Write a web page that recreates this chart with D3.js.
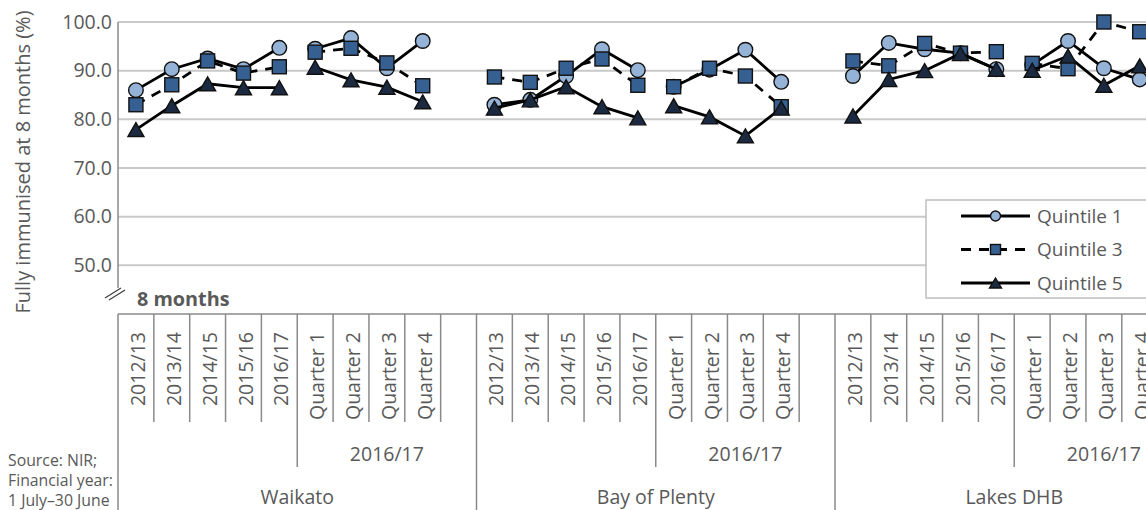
<!DOCTYPE html>
<html>
<head>
<meta charset="utf-8">
<script src="https://cdn.jsdelivr.net/npm/d3@7"></script>
<style>
  html, body { margin: 0; padding: 0; background: #fff; overflow: hidden; }
  svg { display: block; font-family: "Open Sans", "Noto Sans", sans-serif; }
</style>
</head>
<body>
<svg id="chart" width="1146" height="510"></svg>
<script>
// ---- data ----
const regions = ["Waikato", "Bay of Plenty", "Lakes DHB"];
const periods = ["2012/13", "2013/14", "2014/15", "2015/16", "2016/17",
                 "Quarter 1", "Quarter 2", "Quarter 3", "Quarter 4"];
const quarterGroupLabel = "2016/17";
const yTicks = [50, 60, 70, 80, 90, 100];
const seriesNames = ["Quintile 1", "Quintile 3", "Quintile 5"];

// one row per region, one value per period (% fully immunised at 8 months)
const quintile1 = [
  [86.0, 90.3, 92.5, 90.3, 94.7, 94.5, 96.7, 90.5, 96.1],
  [83.0, 84.0, 88.9, 94.4, 90.1, 86.7, 90.2, 94.3, 87.7],
  [88.9, 95.7, 94.4, 93.6, 90.3, 91.2, 96.1, 90.5, 88.2]
];
const quintile3 = [
  [83.0, 87.1, 92.0, 89.5, 90.8, 93.8, 94.6, 91.6, 86.9],
  [88.7, 87.6, 90.5, 92.4, 87.0, 86.7, 90.5, 88.9, 82.6],
  [92.0, 91.0, 95.6, 93.6, 93.9, 91.5, 90.4, 100.0, 98.0]
];
const quintile5 = [
  [77.9, 82.8, 87.3, 86.5, 86.5, 90.7, 88.1, 86.6, 83.6],
  [82.3, 84.0, 86.7, 82.6, 80.3, 82.8, 80.5, 76.6, 82.3],
  [80.7, 88.2, 90.0, 93.5, 90.3, 90.1, 93.0, 87.0, 91.0]
];

// ---- layout ----
const svg = d3.select("#chart");
const W = 1146, H = 510;
const plotLeft = 118, plotTop = 22, plotBottom = 314;
const slotWidth = 35.85;
const textColor = "#595959";
const gridColor = "#c9c9c9";
const axisColor = "#8a8a8a";

const BLANK = "_";
const slots = [];
regions.forEach(r => {
  periods.forEach(p => slots.push(r + "|" + p));
  slots.push(r + "|" + BLANK);
});

const x = d3.scaleBand().domain(slots)
  .range([plotLeft, plotLeft + slots.length * slotWidth]).padding(0);
const y = d3.scaleLinear().domain([40, 100]).range([plotBottom, plotTop]);
const cx = (r, p) => x(r + "|" + p) + x.bandwidth() / 2;

// ---- gridlines ----
svg.append("g").selectAll("line").data(yTicks).join("line")
  .attr("x1", plotLeft).attr("x2", W + 20)
  .attr("y1", d => y(d)).attr("y2", d => y(d))
  .attr("stroke", gridColor).attr("stroke-width", 2);

// value axis labels
const yAxis = d3.axisLeft(y).tickValues(yTicks).tickFormat(d3.format(".1f")).tickSize(0).tickPadding(6);
const yg = svg.append("g").attr("transform", `translate(${plotLeft},0)`).call(yAxis);
yg.select(".domain").remove();
yg.selectAll("text").attr("fill", textColor).style("font-size", "19.5px")
  .style("font-family", "'Open Sans', sans-serif");

// left border of the plot, stopping at the axis break
svg.append("line").attr("x1", plotLeft).attr("x2", plotLeft)
  .attr("y1", plotTop).attr("y2", 288)
  .attr("stroke", axisColor).attr("stroke-width", 1.5);

// axis break marks
svg.append("path").attr("d", "M105,298 L121,288 M109,300 L125,290")
  .attr("stroke", "#404040").attr("stroke-width", 1.3).attr("fill", "none");

svg.append("text").attr("x", 137).attr("y", 306)
  .attr("fill", textColor).style("font-size", "19.8px").style("font-weight", "bold")
  .text("8 months");

// y axis title
svg.append("text")
  .attr("transform", `translate(30,162) rotate(-90)`)
  .attr("text-anchor", "middle")
  .attr("fill", textColor).style("font-size", "20px")
  .text("Fully immunised at 8 months (%)");

// ---- category axis ----
svg.append("line").attr("x1", plotLeft).attr("x2", W + 20)
  .attr("y1", plotBottom).attr("y2", plotBottom)
  .attr("stroke", axisColor).attr("stroke-width", 1.5);

const cat = svg.append("g");
regions.forEach((r, ri) => {
  const keys = periods.map(p => r + "|" + p).concat([r + "|" + BLANK]);
  keys.forEach((k, j) => {
    const xl = x(k);
    let y2 = 422;
    if (j === 0) y2 = H;          // region boundary
    else if (j === 5) y2 = 467;   // years / quarters boundary
    cat.append("line").attr("x1", xl).attr("x2", xl)
      .attr("y1", plotBottom).attr("y2", y2)
      .attr("stroke", axisColor).attr("stroke-width", 1.5);
  });
  // period labels (rotated)
  periods.forEach(p => {
    cat.append("text")
      .attr("transform", `translate(${cx(r, p) + 2},332) rotate(-90)`)
      .attr("text-anchor", "end").attr("dy", "0.36em")
      .attr("fill", textColor).style("font-size", "19.5px")
      .text(p);
  });
  // quarter group label
  const gStart = x(r + "|Quarter 1");
  const gEnd = x(r + "|" + BLANK) + x.bandwidth();
  cat.append("text").attr("x", (gStart + gEnd) / 2).attr("y", 461)
    .attr("text-anchor", "middle").attr("fill", textColor).style("font-size", "19.5px")
    .text(quarterGroupLabel);
  // region label
  const rStart = x(r + "|" + periods[0]);
  cat.append("text").attr("x", (rStart + gEnd) / 2).attr("y", 504)
    .attr("text-anchor", "middle").attr("fill", textColor).style("font-size", "19.5px")
    .text(r);
});
// closing boundary after the last region
{
  const lastEnd = x(regions[regions.length - 1] + "|" + BLANK) + x.bandwidth();
  cat.append("line").attr("x1", lastEnd).attr("x2", lastEnd)
    .attr("y1", plotBottom).attr("y2", H)
    .attr("stroke", axisColor).attr("stroke-width", 1.5);
}

// source note
const note = svg.append("text").attr("fill", textColor).style("font-size", "15.8px");
["Source: NIR;", "Financial year:", "1 July\u201330 June"].forEach((t, i) => {
  note.append("tspan").attr("x", 8).attr("y", 466 + i * 20).text(t);
});

// ---- series ----
const markerStroke = "#111";
const markers = {
  circle: (g, r) => g.append("circle").attr("r", r)
    .attr("fill", "#95b3d7").attr("stroke", markerStroke).attr("stroke-width", 1.4),
  square: (g, s) => g.append("rect").attr("x", -s / 2).attr("y", -s / 2)
    .attr("width", s).attr("height", s)
    .attr("fill", "#376092").attr("stroke", markerStroke).attr("stroke-width", 1.4),
  triangle: (g, w, h) => g.append("path")
    .attr("d", `M0,${-h / 2} L${w / 2},${h / 2} L${-w / 2},${h / 2} Z`)
    .attr("fill", "#1b2a40").attr("stroke", markerStroke).attr("stroke-width", 1.4)
    .attr("stroke-linejoin", "miter")
};

const series = [
  { name: seriesNames[0], values: quintile1, dash: null, marker: g => markers.circle(g, 7.3),
    legend: g => markers.circle(g, 5) },
  { name: seriesNames[1], values: quintile3, dash: "10,8", marker: g => markers.square(g, 14),
    legend: g => markers.square(g, 10) },
  { name: seriesNames[2], values: quintile5, dash: null, marker: g => markers.triangle(g, 16, 14),
    legend: g => markers.triangle(g, 12, 10) }
];

const line = d3.line().x(d => d.x).y(d => d.y);
const plot = svg.append("g");

series.forEach(s => {
  const g = plot.append("g");
  regions.forEach((r, ri) => {
    const pts = periods.map((p, j) => ({ x: cx(r, p), y: y(s.values[ri][j]) }));
    [pts.slice(0, 5), pts.slice(5)].forEach(seg => {
      g.append("path").attr("d", line(seg))
        .attr("fill", "none").attr("stroke", "#000").attr("stroke-width", 2.8)
        .attr("stroke-dasharray", s.dash);
    });
    pts.forEach(pt => {
      const m = g.append("g").attr("transform", `translate(${pt.x},${pt.y})`);
      s.marker(m);
    });
  });
});

// ---- legend ----
const lg = svg.append("g");
lg.append("rect").attr("x", 926).attr("y", 200).attr("width", 260).attr("height", 98)
  .attr("fill", "#fff").attr("stroke", "#bfbfbf").attr("stroke-width", 1.5);
series.forEach((s, i) => {
  const ly = 216 + i * 33.5;
  lg.append("line").attr("x1", 961).attr("x2", 1030).attr("y1", ly).attr("y2", ly)
    .attr("stroke", "#000").attr("stroke-width", 2.8).attr("stroke-dasharray", s.dash);
  const m = lg.append("g").attr("transform", `translate(995.5,${ly})`);
  s.legend(m);
  lg.append("text").attr("x", 1037).attr("y", ly).attr("dy", "0.36em")
    .attr("fill", textColor).style("font-size", "19px").text(s.name);
});
</script>
</body>
</html>
